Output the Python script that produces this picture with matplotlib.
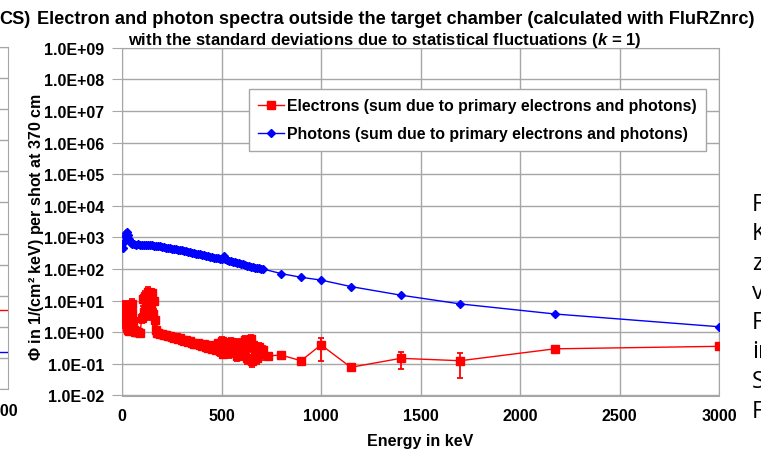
import numpy as np
import matplotlib
matplotlib.use("Agg")
import matplotlib.pyplot as plt
from matplotlib.lines import Line2D
from matplotlib.ticker import FixedLocator, FuncFormatter, NullLocator

plt.rcParams['font.family'] = ['Liberation Sans', 'DejaVu Sans']
plt.rcParams['font.weight'] = 'bold'
plt.rcParams['mathtext.fontset'] = 'custom'
plt.rcParams['mathtext.rm'] = 'Liberation Sans:bold'
plt.rcParams['mathtext.it'] = 'Liberation Sans:bold:italic'
plt.rcParams['mathtext.bf'] = 'Liberation Sans:bold'

# electron fluence, 1/(cm^2 keV) per shot
e_energy = [0, 3, 6, 9, 12, 15, 18, 21, 24, 27, 30, 35, 40, 45, 48, 52, 56, 60, 65, 70,
            75, 80, 90, 100, 105, 110, 115, 120, 125, 130, 135, 140, 145, 150, 155, 160, 165, 170, 175, 180,
            190, 200, 210, 220, 230, 240, 250, 260, 270, 280, 290, 300, 310, 320, 330, 340, 350, 360, 370, 380,
            390, 400, 410, 420, 430, 440, 450, 460, 470, 480, 490, 500, 505, 510, 520, 530, 540, 550, 560, 570,
            580, 590, 600, 610, 620, 630, 640, 650, 655, 660, 670, 680, 690, 700, 710,
            735, 800, 900, 1000, 1150, 1400, 1700, 2175, 3000]
e_flux = [5.0, 3.2, 6.5, 4.0, 2.4, 7.5, 2.8, 1.8, 1.4, 1.6, 1.2, 1.1, 2.6, 6.5, 4.2, 8.0, 2.2, 1.15, 1.05, 1.1,
          1.0, 1.02, 0.97, 2.8, 11.0, 4.5, 14.0, 8.5, 3.6, 19.0, 6.5, 12.0, 5.5, 17.0, 3.8, 9.5, 2.4, 1.2, 0.92, 0.95,
          0.88, 0.90, 0.84, 0.82, 0.78, 0.74, 0.72, 0.67, 0.70, 0.62, 0.64, 0.58, 0.55, 0.57, 0.50, 0.52, 0.47, 0.44, 0.42, 0.46,
          0.39, 0.37, 0.42, 0.34, 0.33, 0.39, 0.30, 0.36, 0.27, 0.46, 0.25, 0.55, 0.30, 0.21, 0.42, 0.30, 0.22, 0.50, 0.34, 0.25,
          0.18, 0.46, 0.30, 0.20, 0.56, 0.15, 0.36, 0.62, 0.12, 0.40, 0.25, 0.15, 0.34, 0.20, 0.28,
          0.18, 0.19, 0.126, 0.40, 0.078, 0.15, 0.126, 0.30, 0.36]
e_err = [1.0, 0.8, 1.5, 1.0, 0.6, 2.0, 0.7, 0.4, 0.3, 0.4, 0.2, 0.15, 0.8, 2.5, 1.5, 3.0, 0.6, 0.15, 0.12, 0.12,
         0.10, 0.10, 0.10, 0.9, 4.0, 1.5, 6.0, 3.0, 1.2, 8.0, 2.5, 5.0, 2.0, 7.0, 1.3, 4.0, 0.8, 0.2, 0.10, 0.10,
         0.09, 0.09, 0.09, 0.08, 0.08, 0.08, 0.08, 0.07, 0.08, 0.07, 0.08, 0.07, 0.07, 0.08, 0.07, 0.08, 0.07, 0.07, 0.07, 0.09,
         0.07, 0.07, 0.09, 0.07, 0.07, 0.09, 0.07, 0.09, 0.07, 0.12, 0.07, 0.15, 0.08, 0.06, 0.12, 0.09, 0.07, 0.14, 0.10, 0.08,
         0.06, 0.14, 0.10, 0.07, 0.18, 0.05, 0.12, 0.20, 0.04, 0.13, 0.09, 0.05, 0.12, 0.07, 0.09,
         0.04, 0.04, 0.02, 0.28, 0.01, 0.08, 0.09, 0.08, 0.04]

# photon fluence, 1/(cm^2 keV) per shot
p_energy = [5, 10, 15, 20, 25, 30, 35, 40, 45, 50, 60, 70, 80, 90, 100, 110, 120, 130, 140, 150,
            160, 170, 180, 190, 200, 210, 220, 230, 240, 250, 260, 270, 280, 290, 300, 310, 320, 330, 340, 350,
            360, 370, 380, 390, 400, 410, 420, 430, 440, 450, 460, 470, 480, 490, 505, 511, 520, 530, 540, 550,
            560, 570, 580, 590, 600, 610, 620, 630, 640, 650, 660, 670, 680, 690, 700, 710,
            800, 900, 1000, 1150, 1400, 1700, 2175, 3000]
p_flux = [450, 700, 1100, 1400, 1450, 1200, 900, 750, 680, 640, 620, 600, 610, 600, 590, 600, 590, 580, 570, 560,
          555, 540, 530, 520, 505, 490, 480, 470, 455, 440, 430, 420, 410, 400, 390, 375, 365, 350, 340, 330,
          320, 310, 300, 290, 280, 270, 262, 255, 248, 240, 232, 225, 218, 212, 210, 255, 205, 195, 185, 178,
          172, 165, 160, 155, 148, 140, 133, 128, 124, 120, 116, 112, 108, 105, 103, 100,
          72, 55, 45, 28, 15, 7.9, 3.8, 1.5]

# neighbouring chart on the slide (only its right edge shows)
side_energy = [2800, 3000]
side_electrons = [3.6, 3.6]
side_photons = [0.155, 0.155]

W, H = 761, 452
fig = plt.figure(figsize=(W / 100, H / 100), dpi=100)

grid_col = '#a6a6a6'
fs = 11.5

side = fig.add_axes([-0.5, 0.137, 0.511, 0.757])
side.set_yscale('log')
side.set_ylim(1e-2, 1e9)
side.set_xlim(0, 3000)
side.plot(side_energy, side_electrons, color='#ff0000', lw=1)
side.plot(side_energy, side_photons, color='#0000ff', lw=1)
side.yaxis.set_major_locator(FixedLocator([10.0 ** k for k in range(-2, 10)]))
side.yaxis.set_minor_locator(NullLocator())
side.grid(True, color=grid_col, lw=1)
side.set_xticks([])
side.set_yticklabels([])
side.tick_params(length=0)
for s in side.spines.values():
    s.set_color(grid_col)
fig.text(0.0, 1 - 412 / H, '3000', ha='center', va='center', fontsize=fs, fontweight='bold')

ax = fig.add_axes([122 / W, 1 - 396.5 / H, 597 / W, 347.6 / H])
ax.set_yscale('log')
ax.set_ylim(1e-2, 1e9)
ax.set_xlim(0, 3000)

ax.errorbar(e_energy, e_flux, yerr=e_err, color='#ff0000', lw=1, marker='s', ms=5.5,
            elinewidth=1.3, capsize=2.5, capthick=1.3, zorder=3)
ax.plot(p_energy, p_flux, color='#0000ff', lw=1, marker='D', ms=3.8, zorder=4)

ax.yaxis.set_major_locator(FixedLocator([10.0 ** k for k in range(-2, 10)]))
ax.yaxis.set_minor_locator(NullLocator())
ax.yaxis.set_major_formatter(FuncFormatter(lambda v, pos: '%.1E' % v))
ax.set_xticks(np.arange(0, 3001, 500))
ax.grid(True, color=grid_col, lw=1, zorder=0)
ax.set_axisbelow(True)
for s in ax.spines.values():
    s.set_color(grid_col)
ax.tick_params(axis='y', length=7, color=grid_col, labelsize=fs, pad=6)
ax.tick_params(axis='x', length=0, labelsize=fs, pad=9)
for lab in ax.get_xticklabels() + ax.get_yticklabels():
    lab.set_fontweight('bold')

ax.set_xlabel('Energy in keV', fontsize=fs, fontweight='bold', labelpad=7)
ax.set_ylabel(r'$\mathit{\Phi}$ in 1/(cm² keV) per shot at 370 cm', fontsize=11.5, fontweight='bold')
ax.yaxis.set_label_coords(-0.127, 0.488)

# legend keys show line + marker only
e_key = Line2D([], [], color='#ff0000', lw=1, marker='s', ms=5.5)
p_key = Line2D([], [], color='#0000ff', lw=1, marker='D', ms=3.8)
leg = ax.legend([e_key, p_key],
                ['Electrons (sum due to primary electrons and photons)',
                 'Photons (sum due to primary electrons and photons)'],
                loc='upper right', bbox_to_anchor=(0.978, 0.882), fancybox=False, framealpha=1,
                edgecolor=grid_col, prop={'weight': 'bold', 'size': 11.4}, handlelength=1.6,
                handletextpad=0.2, borderpad=0.6, labelspacing=0.8, borderaxespad=0)
leg.get_frame().set_linewidth(1)

fig.text(396 / W, 1 - 19 / H,
         'Electron and photon spectra outside the target chamber (calculated with FluRZnrc)',
         ha='center', va='center', fontsize=13.1, fontweight='bold')
fig.text(31 / W, 1 - 19 / H, 'CS)', ha='right', va='center', fontsize=13.1, fontweight='bold')
fig.text(385 / W, 1 - 40 / H,
         r'with the standard deviations due to statistical fluctuations ($k$ = 1)',
         ha='center', va='center', fontsize=12, fontweight='bold')

# slide body text cut off at the right edge
side_letters = ['F', 'K', 'z', 'v', 'F', 'in', 'S', 'F']
for i, t in enumerate(side_letters):
    fig.text(752 / W, 1 - (205 + i * 29.5) / H, t, ha='left', va='center',
             fontsize=17, fontweight='normal', family='Open Sans')

fig.savefig('out.png', dpi=100)
